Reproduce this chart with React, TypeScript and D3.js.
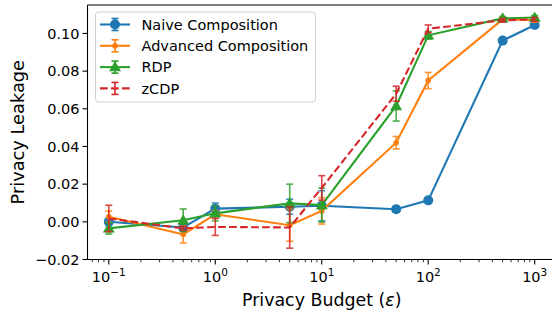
import React, { useEffect, useRef } from "react";
import * as d3 from "d3";

// privacy budgets (x) and leakage per method
const budgets = [0.1, 0.5, 1, 5, 10, 50, 100, 500, 1000];
const naive = [0.0, -0.003, 0.007, 0.008, 0.0085, 0.0067, 0.0114, 0.0962, 0.1045];
const naiveErr = [0.002, 0.002, 0.003, 0.004, 0.008, 0.0015, 0.001, 0.001, 0.001];
const advanced = [0.0027, -0.0067, 0.004, -0.0018, 0.0058, 0.042, 0.075, 0.1075, 0.107];
const advancedErr = [0.003, 0.0045, 0.002, 0.0085, 0.007, 0.0033, 0.0043, 0.001, 0.001];
const rdp = [-0.0035, 0.0008, 0.0045, 0.0098, 0.0089, 0.0615, 0.099, 0.108, 0.1085];
const rdpErr = [0.003, 0.006, 0.004, 0.0102, 0.009, 0.008, 0.002, 0.001, 0.001];
const zcdp = [0.0018, -0.0035, -0.0027, -0.003, 0.018, 0.068, 0.1025, 0.107, 0.1075];
const zcdpErr = [0.007, 0.001, 0.0045, 0.011, 0.0065, 0.004, 0.002, 0.001, 0.001];

const yTicks = [-0.02, 0.0, 0.02, 0.04, 0.06, 0.08, 0.1];
const xTicks = [0.1, 1, 10, 100, 1000];
const xTickExp = ["\u22121", "0", "1", "2", "3"];

const seriesNames = ["Naive Composition", "Advanced Composition", "RDP", "zCDP"];
const colors = ["#1f77b4", "#ff7f0e", "#2ca02c", "#d62728"];
const markers = ["circle", "dot", "triangle", "none"];

export default function App() {
  const ref = useRef<SVGSVGElement>(null);

  useEffect(() => {
    const svg = d3.select(ref.current);
    svg.selectAll("*").remove();

    const left = 87.5, right = 556, top = 5, bottom = 259.5;
    const x = d3.scaleLog().domain([Math.pow(10, -1.2), Math.pow(10, 3.2)]).range([left, right]);
    const y = d3.scaleLinear().domain([-0.02, 0.1151]).range([bottom, top]);
    const font = "DejaVu Sans, sans-serif";

    const series = [
      { vals: naive, err: naiveErr },
      { vals: advanced, err: advancedErr },
      { vals: rdp, err: rdpErr },
      { vals: zcdp, err: zcdpErr },
    ];

    const plot = svg.append("g");
    const line = d3
      .line<number>()
      .x((_, i) => x(budgets[i]))
      .y((d) => y(d));

    const drawMarker = (g: any, kind: string, cx: number, cy: number, color: string) => {
      if (kind === "circle") {
        g.append("circle").attr("cx", cx).attr("cy", cy).attr("r", 5).attr("fill", color);
      } else if (kind === "dot") {
        g.append("circle").attr("cx", cx).attr("cy", cy).attr("r", 2.8).attr("fill", color);
      } else if (kind === "triangle") {
        const s = 6;
        g.append("path")
          .attr("d", `M${cx},${cy - s} L${cx + s},${cy + s * 0.7} L${cx - s},${cy + s * 0.7} Z`)
          .attr("fill", color);
      }
    };

    series.forEach((s, k) => {
      const g = plot.append("g");
      const color = colors[k];
      // error bars
      s.vals.forEach((v, i) => {
        const cx = x(budgets[i]);
        const y0 = y(v - s.err[i]);
        const y1 = y(v + s.err[i]);
        const eb = g.append("g").attr("stroke", color).attr("stroke-width", 1.6).attr("opacity", 0.85);
        eb.append("line").attr("x1", cx).attr("x2", cx).attr("y1", y0).attr("y2", y1);
        eb.append("line").attr("x1", cx - 3.5).attr("x2", cx + 3.5).attr("y1", y0).attr("y2", y0);
        eb.append("line").attr("x1", cx - 3.5).attr("x2", cx + 3.5).attr("y1", y1).attr("y2", y1);
      });
      g.append("path")
        .attr("d", line(s.vals))
        .attr("fill", "none")
        .attr("stroke", color)
        .attr("stroke-width", 2.1)
        .attr("stroke-dasharray", k === 3 ? "7.7,3.3" : null);
      s.vals.forEach((v, i) => drawMarker(g, markers[k], x(budgets[i]), y(v), color));
    });

    // spines
    const axes = svg.append("g").attr("stroke", "#000").attr("stroke-width", 1.1);
    axes.append("line").attr("x1", left).attr("x2", left).attr("y1", top).attr("y2", bottom);
    axes.append("line").attr("x1", left).attr("x2", right).attr("y1", bottom).attr("y2", bottom);
    axes.append("line").attr("x1", left).attr("x2", right).attr("y1", top).attr("y2", top);
    axes.append("line").attr("x1", right).attr("x2", right).attr("y1", top).attr("y2", bottom);

    // y ticks
    yTicks.forEach((t) => {
      const ty = y(t);
      axes.append("line").attr("x1", left - 5).attr("x2", left).attr("y1", ty).attr("y2", ty);
      svg
        .append("text")
        .attr("x", left - 8)
        .attr("y", ty)
        .attr("dy", "0.36em")
        .attr("text-anchor", "end")
        .attr("font-family", font)
        .attr("font-size", 14.5)
        .text(d3.format(".2f")(t).replace("-", "\u2212"));
    });

    // x minor ticks
    for (let e = -2; e <= 3; e++) {
      for (let m = 2; m <= 9; m++) {
        const v = m * Math.pow(10, e);
        const px = x(v);
        if (px < left || px > right) continue;
        axes.append("line").attr("x1", px).attr("x2", px).attr("y1", bottom).attr("y2", bottom + 2.8).attr("stroke-width", 0.8);
      }
    }
    // x major ticks
    xTicks.forEach((t, i) => {
      const px = x(t);
      axes.append("line").attr("x1", px).attr("x2", px).attr("y1", bottom).attr("y2", bottom + 5);
      const txt = svg
        .append("text")
        .attr("x", px)
        .attr("y", bottom + 22)
        .attr("text-anchor", "middle")
        .attr("font-family", font)
        .attr("font-size", 14.5);
      txt.append("tspan").text("10");
      txt.append("tspan").attr("dy", -6).attr("font-size", 10.5).text(xTickExp[i]);
    });

    // axis labels
    const xl = svg
      .append("text")
      .attr("x", (left + right) / 2)
      .attr("y", 306)
      .attr("text-anchor", "middle")
      .attr("font-family", font)
      .attr("font-size", 17.4);
    xl.append("tspan").text("Privacy Budget (");
    xl.append("tspan").attr("font-style", "italic").text("\u03b5");
    xl.append("tspan").text(")");
    svg
      .append("text")
      .attr("transform", `translate(24,${(top + bottom) / 2}) rotate(-90)`)
      .attr("text-anchor", "middle")
      .attr("font-family", font)
      .attr("font-size", 17.8)
      .text("Privacy Leakage");

    // legend
    const lg = svg.append("g");
    lg.append("rect")
      .attr("x", 95.5)
      .attr("y", 12)
      .attr("width", 220)
      .attr("height", 90)
      .attr("rx", 3)
      .attr("fill", "#fff")
      .attr("fill-opacity", 0.8)
      .attr("stroke", "#d0d0d0")
      .attr("stroke-width", 1);
    seriesNames.forEach((name, k) => {
      const cy = 24.5 + k * 21.3;
      const color = colors[k];
      const hg = lg.append("g");
      hg.append("line")
        .attr("x1", 100)
        .attr("x2", 130)
        .attr("y1", cy)
        .attr("y2", cy)
        .attr("stroke", color)
        .attr("stroke-width", 2.1)
        .attr("stroke-dasharray", k === 3 ? "7.7,3.3" : null);
      const eb = hg.append("g").attr("stroke", color).attr("stroke-width", 1.6);
      eb.append("line").attr("x1", 115).attr("x2", 115).attr("y1", cy - 6).attr("y2", cy + 6);
      eb.append("line").attr("x1", 111.5).attr("x2", 118.5).attr("y1", cy - 6).attr("y2", cy - 6);
      eb.append("line").attr("x1", 111.5).attr("x2", 118.5).attr("y1", cy + 6).attr("y2", cy + 6);
      drawMarker(hg, markers[k], 115, cy, color);
      lg.append("text")
        .attr("x", 141.5)
        .attr("y", cy)
        .attr("dy", "0.36em")
        .attr("font-family", font)
        .attr("font-size", 14.5)
        .text(name);
    });
  }, []);

  return (
    <svg
      ref={ref}
      width={552}
      height={314}
      style={{ position: "absolute", left: 0, top: 0, background: "#fff" }}
    />
  );
}
